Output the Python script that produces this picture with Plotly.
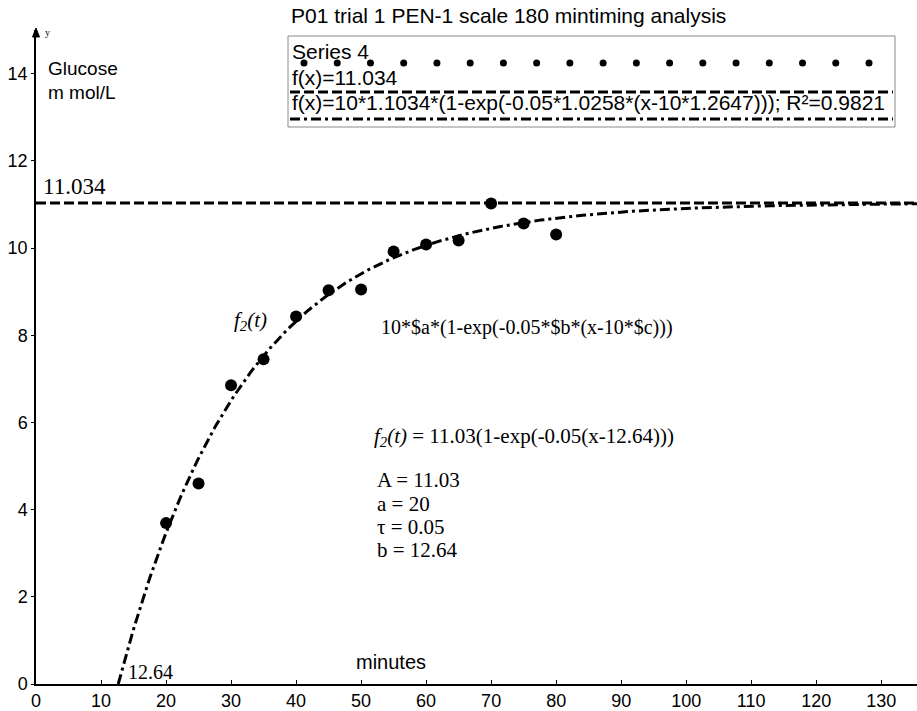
import numpy as np
import plotly.graph_objects as go

# ---------------- data ----------------
minutes = [20, 25, 30, 35, 40, 45, 50, 55, 60, 65, 70, 75, 80]
glucose = [3.69, 4.60, 6.85, 7.45, 8.43, 9.03, 9.05, 9.92, 10.08, 10.17, 11.02, 10.56, 10.31]

plateau = 11.034                   # f(x)=11.034
fit_a, fit_b, fit_c = 1.1034, 1.0258, 1.2647   # f(x)=10*a*(1-exp(-0.05*b*(x-10*c)))

x_ticks = list(range(0, 140, 10))
y_ticks = list(range(0, 16, 2))

X_MAX = 135.5
Y_MAX = 15.0

title_text = "P01 trial 1 PEN-1 scale 180 mintiming analysis"
legend_labels = ["Series 4", "f(x)=11.034",
                 "f(x)=10*1.1034*(1-exp(-0.05*1.0258*(x-10*1.2647))); R²=0.9821"]
plateau_label = "11.034"
root_label = "12.64"
param_lines = ["A = 11.03", "a = 20", "τ = 0.05", "b = 12.64"]

# ---------------- geometry helpers (pixel -> paper) ----------------
W, H = 917, 711
L, R, T, B = 36, 0, 30, 27
PW, PH = W - L - R, H - T - B


def px(x):
    return (x - L) / PW


def py(y):
    return (H - B - y) / PH


SANS = "Liberation Sans, Arial, sans-serif"
SERIF = "Liberation Serif, Times New Roman, serif"

fig = go.Figure()

# fitted curve
x0 = 10 * fit_c
xs = np.linspace(x0, X_MAX, 400)
ys = 10 * fit_a * (1 - np.exp(-0.05 * fit_b * (xs - x0)))
fig.add_trace(go.Scatter(x=xs, y=ys, mode="lines",
                         line=dict(color="black", width=3, dash="10px,4px,3px,4px"),
                         hoverinfo="skip", showlegend=False))

# plateau line
fig.add_trace(go.Scatter(x=[0, X_MAX], y=[plateau, plateau], mode="lines",
                         line=dict(color="black", width=3, dash="10px,4px"),
                         hoverinfo="skip", showlegend=False))

# data points
fig.add_trace(go.Scatter(x=minutes, y=glucose, mode="markers",
                         marker=dict(color="black", size=12),
                         showlegend=False))

shapes = []
annotations = []

# ---------------- y axis arrow head ----------------
ax_x, ax_y = L, T
shapes.append(dict(type="path", xref="paper", yref="paper",
                   path=(f"M {px(ax_x)} {py(ax_y - 2)} L {px(ax_x - 3.5)} {py(ax_y + 7)} "
                         f"L {px(ax_x + 3.5)} {py(ax_y + 7)} Z"),
                   fillcolor="black", line=dict(color="black", width=1), layer="above"))

# ---------------- custom legend box ----------------
bx0, bx1, by0, by1 = 288, 895, 36, 127
shapes.append(dict(type="rect", xref="paper", yref="paper",
                   x0=px(bx0), x1=px(bx1), y0=py(by1), y1=py(by0),
                   line=dict(color="#8a8a8a", width=1), fillcolor="white", layer="above"))
n_dots = 18
for i in range(n_dots):
    cx = 304 + i * (869 - 304) / (n_dots - 1)
    cy = 63
    shapes.append(dict(type="circle", xref="paper", yref="paper",
                       x0=px(cx - 3.5), x1=px(cx + 3.5), y0=py(cy + 3.5), y1=py(cy - 3.5),
                       line=dict(width=0), fillcolor="black", layer="above"))
shapes.append(dict(type="line", xref="paper", yref="paper",
                   x0=px(290), x1=px(893), y0=py(92), y1=py(92),
                   line=dict(color="black", width=3, dash="10px,4px"), layer="above"))
shapes.append(dict(type="line", xref="paper", yref="paper",
                   x0=px(290), x1=px(893), y0=py(119), y1=py(119),
                   line=dict(color="black", width=3, dash="10px,4px,3px,4px"), layer="above"))

for lab, cy in zip(legend_labels, [52, 77, 103]):
    annotations.append(dict(text=lab, x=px(290), y=py(cy), xref="paper", yref="paper",
                            xanchor="left", yanchor="middle", showarrow=False,
                            font=dict(family=SANS, size=21, color="black")))

# title
annotations.append(dict(text=title_text, x=px(289), y=py(16), xref="paper", yref="paper",
                        xanchor="left", yanchor="middle", showarrow=False,
                        font=dict(family=SANS, size=21, color="black")))

# axis captions
annotations.append(dict(text="Glucose", x=px(46), y=py(68), xref="paper", yref="paper",
                        xanchor="left", yanchor="middle", showarrow=False,
                        font=dict(family=SANS, size=19, color="black")))
annotations.append(dict(text="m mol/L", x=px(46), y=py(92), xref="paper", yref="paper",
                        xanchor="left", yanchor="middle", showarrow=False,
                        font=dict(family=SANS, size=19, color="black")))
annotations.append(dict(text="minutes", x=px(354), y=py(662), xref="paper", yref="paper",
                        xanchor="left", yanchor="middle", showarrow=False,
                        font=dict(family=SANS, size=20, color="black")))
annotations.append(dict(text="y", x=px(43), y=py(33), xref="paper", yref="paper",
                        xanchor="left", yanchor="middle", showarrow=False,
                        font=dict(family=SERIF, size=10, color="black")))

# value labels
annotations.append(dict(text=plateau_label, x=px(41), y=py(186), xref="paper", yref="paper",
                        xanchor="left", yanchor="middle", showarrow=False,
                        font=dict(family=SERIF, size=23, color="black")))
annotations.append(dict(text=root_label, x=px(126), y=py(672), xref="paper", yref="paper",
                        xanchor="left", yanchor="middle", showarrow=False,
                        font=dict(family=SERIF, size=20, color="black")))
annotations.append(dict(text="<i>f<sub>2</sub>(t)</i>", x=px(232), y=py(321), xref="paper", yref="paper",
                        xanchor="left", yanchor="middle", showarrow=False,
                        font=dict(family=SERIF, size=21, color="black")))
annotations.append(dict(text="10*$a*(1-exp(-0.05*$b*(x-10*$c)))", x=px(379), y=py(327),
                        xref="paper", yref="paper", xanchor="left", yanchor="middle",
                        showarrow=False, font=dict(family=SERIF, size=20, color="black")))
annotations.append(dict(text="<i>f<sub>2</sub>(t)</i> = 11.03(1-exp(-0.05(x-12.64)))", x=px(372), y=py(437),
                        xref="paper", yref="paper", xanchor="left", yanchor="middle",
                        showarrow=False, font=dict(family=SERIF, size=21, color="black")))
for txt, cy in zip(param_lines, [480, 504, 527, 550]):
    annotations.append(dict(text=txt, x=px(375), y=py(cy), xref="paper", yref="paper",
                            xanchor="left", yanchor="middle", showarrow=False,
                            font=dict(family=SERIF, size=21, color="black")))

fig.update_layout(
    width=W, height=H,
    margin=dict(l=L, r=R, t=T, b=B, pad=0, autoexpand=False),
    paper_bgcolor="white", plot_bgcolor="white",
    showlegend=False,
    shapes=shapes, annotations=annotations,
    xaxis=dict(range=[0, X_MAX], tickvals=x_ticks, ticktext=[str(v) for v in x_ticks],
               automargin=False,
               showgrid=False, zeroline=False, showline=True, linecolor="black", linewidth=1.5,
               ticks="inside", ticklen=4, tickcolor="black",
               tickfont=dict(family=SANS, size=18, color="black")),
    yaxis=dict(range=[0, Y_MAX], tickvals=y_ticks, ticktext=[str(v) for v in y_ticks],
               automargin=False,
               showgrid=False, zeroline=False, showline=True, linecolor="black", linewidth=1.5,
               ticks="outside", ticklen=3, tickcolor="black",
               tickfont=dict(family=SANS, size=18, color="black")),
)

fig.write_html("out.html", config={"displayModeBar": False},
               post_script="document.body.style.margin='0px';")
